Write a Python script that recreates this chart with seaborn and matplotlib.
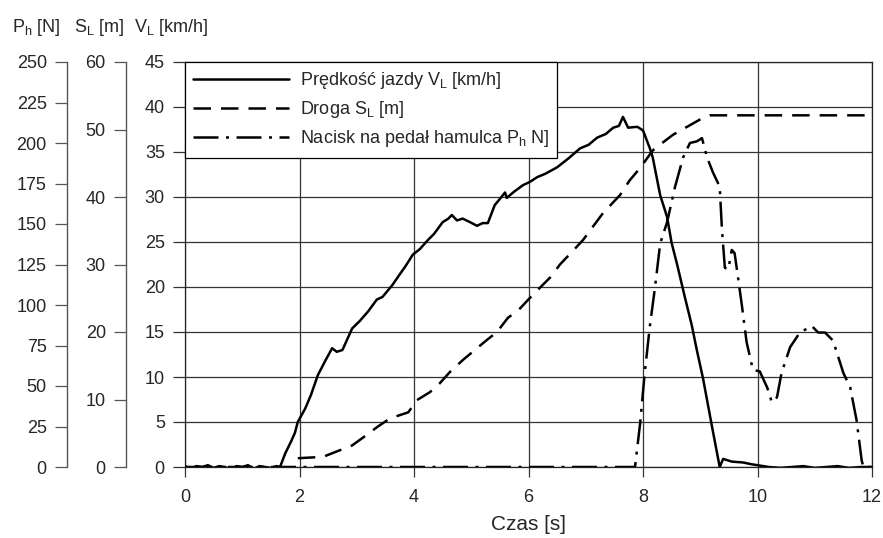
import matplotlib
matplotlib.use("Agg")
import matplotlib.pyplot as plt
import numpy as np
import pandas as pd
import seaborn as sns

# Vehicle speed V_L [km/h]
t_v = [0.0, 0.1, 0.2, 0.3, 0.4, 0.5, 0.6, 0.7, 0.8, 0.9, 1.0, 1.1, 1.2, 1.3,
       1.4, 1.5, 1.6, 1.66, 1.75, 1.85, 1.92, 1.97, 2.1, 2.2, 2.32, 2.45,
       2.57, 2.65, 2.75, 2.92, 3.05, 3.2, 3.35, 3.45, 3.62, 3.75, 3.85, 3.98,
       4.1, 4.24, 4.35, 4.5, 4.6, 4.66, 4.75, 4.85, 4.98, 5.1, 5.2, 5.29,
       5.41, 5.45, 5.59, 5.62, 5.75, 5.9, 6.03, 6.15, 6.3, 6.5, 6.7, 6.9,
       7.05, 7.2, 7.35, 7.48, 7.58, 7.65, 7.74, 7.9, 8.0, 8.12, 8.17, 8.3,
       8.42, 8.5, 8.6, 8.73, 8.85, 8.94, 9.05, 9.12, 9.22, 9.34, 9.4, 9.55,
       9.75, 9.9, 10.0, 10.2, 10.4, 10.6, 10.8, 11.0, 11.2, 11.4, 11.6, 11.8,
       12.0]
v_kmh = [0.1, -0.2, 0.1, 0.0, 0.2, -0.1, 0.1, 0.0, -0.3, 0.1, 0.0, 0.2, -0.2,
         0.1, 0.0, -0.1, 0.1, 0.0, 1.5, 2.8, 3.8, 5.0, 6.5, 8.0, 10.2, 11.8,
         13.2, 12.8, 13.0, 15.4, 16.2, 17.3, 18.6, 18.9, 20.2, 21.4, 22.3,
         23.6, 24.2, 25.2, 25.9, 27.2, 27.6, 28.0, 27.4, 27.6, 27.2, 26.8,
         27.1, 27.1, 29.1, 29.4, 30.5, 29.9, 30.6, 31.3, 31.7, 32.2, 32.6,
         33.3, 34.3, 35.4, 35.8, 36.6, 37.0, 37.7, 37.9, 38.9, 37.7, 37.8,
         37.4, 35.4, 34.4, 30.2, 27.8, 24.9, 22.4, 18.9, 15.8, 13.0, 9.8, 7.4,
         4.0, 0.0, 0.9, 0.6, 0.5, 0.3, 0.2, 0.0, -0.1, 0.0, 0.1, -0.1, 0.0,
         0.1, -0.1, 0.0, 0.0]

# Distance travelled S_L [m]
t_s = [1.97, 2.41, 2.65, 2.92, 3.1, 3.37, 3.58, 3.9, 4.05, 4.28, 4.45, 4.63,
       4.86, 5.03, 5.27, 5.45, 5.64, 5.82, 6.03, 6.24, 6.38, 6.55, 6.95, 7.3,
       7.6, 7.77, 7.95, 8.17, 8.35, 8.52, 8.77, 9.0, 9.17, 12.0]
s_m = [1.3, 1.5, 2.3, 3.2, 4.3, 6.0, 7.2, 8.1, 9.9, 11.1, 12.4, 14.1, 15.9,
       17.1, 18.8, 20.0, 22.1, 23.2, 25.1, 26.9, 28.1, 30.0, 33.6, 37.6, 40.3,
       42.5, 44.3, 46.9, 48.1, 49.2, 50.4, 51.5, 52.1, 52.1]

# Brake pedal force P_h [N]
t_p = [0.0, 7.86, 7.95, 8.03, 8.12, 8.21, 8.3, 8.42, 8.56, 8.7, 8.82, 8.94,
       9.03, 9.12, 9.22, 9.34, 9.38, 9.43, 9.49, 9.55, 9.6, 9.66, 9.73, 9.81,
       9.92, 10.04, 10.17, 10.25, 10.34, 10.42, 10.57, 10.74, 10.95, 11.06,
       11.18, 11.32, 11.5, 11.62, 11.73, 11.82, 11.85, 12.0]
p_n = [0, 0, 27, 58, 87, 111, 138, 151, 173, 191, 200, 201, 203, 191, 182,
       173, 146, 123, 122, 134, 132, 117, 99, 77, 60, 59, 49, 40, 43, 58, 74,
       83, 87, 83, 83, 78, 58, 49, 29, 4, 0, 0]

x_ticks = [0, 2, 4, 6, 8, 10, 12]
v_ticks = list(range(0, 46, 5))
s_ticks = list(range(0, 61, 10))
p_ticks = list(range(0, 251, 25))

labels = ["Prędkość jazdy V$_\\mathregular{L}$ [km/h]",
          "Droga S$_\\mathregular{L}$ [m]",
          "Nacisk na pedał hamulca P$_\\mathregular{h}$ N]"]

sns.set_style("ticks")
plt.rcParams["font.family"] = ["Liberation Sans", "DejaVu Sans"]
plt.rcParams["mathtext.fontset"] = "custom"
plt.rcParams["mathtext.rm"] = "Liberation Sans"
plt.rcParams["mathtext.it"] = "Liberation Sans:italic"
plt.rcParams["mathtext.bf"] = "Liberation Sans:bold"

df_v = pd.DataFrame({"t": t_v, "v": v_kmh})
df_s = pd.DataFrame({"t": t_s, "s": s_m})
df_p = pd.DataFrame({"t": t_p, "p": p_n})

fig = plt.figure(figsize=(8.83, 5.38), dpi=100)
ax = fig.add_axes([185 / 883, 1 - 467 / 538, 687 / 883, 405 / 538])
ax_s = ax.twinx()
ax_p = ax.twinx()

FS = 13
LW = 1.8
TICK_LEN = 8.5

sns.lineplot(data=df_v, x="t", y="v", ax=ax, color="black", lw=LW,
             estimator=None, sort=False, label=labels[0], legend=False)
sns.lineplot(data=df_s, x="t", y="s", ax=ax_s, color="black", lw=LW,
             estimator=None, sort=False, linestyle=(0, (7, 4)),
             label=labels[1], legend=False)
sns.lineplot(data=df_p, x="t", y="p", ax=ax_p, color="black", lw=LW,
             estimator=None, sort=False, linestyle=(0, (10, 3, 1.2, 3)),
             label=labels[2], legend=False)

# Main (speed) axis
ax.set_xlim(0, 12)
ax.set_ylim(0, 45)
ax.set_xticks(x_ticks)
ax.set_yticks(v_ticks)
ax.grid(True, color="#333333", lw=0.9)
ax.set_axisbelow(True)
ax.set_xlabel("Czas [s]", fontsize=15, labelpad=6)
ax.set_ylabel("")
ax.tick_params(axis="x", direction="out", length=7, width=0.9,
               labelsize=FS, pad=9, color="#333333")
ax.tick_params(axis="y", direction="out", length=TICK_LEN, width=0.9,
               labelsize=FS, pad=6, color="#333333")
for sp in ax.spines.values():
    sp.set_color("#222222")
    sp.set_linewidth(0.9)

# Offset axes for distance and brake force on the left side
for a, lim, ticks, pos in [(ax_s, 60, s_ticks, -59 / 687),
                           (ax_p, 250, p_ticks, -118 / 687)]:
    a.set_ylim(0, lim)
    a.set_yticks(ticks)
    a.set_ylabel("")
    a.patch.set_visible(False)
    a.spines["left"].set_position(("axes", pos))
    a.spines["left"].set_visible(True)
    a.spines["left"].set_color("#555555")
    a.spines["left"].set_linewidth(1.0)
    for name in ("right", "top", "bottom"):
        a.spines[name].set_visible(False)
    a.yaxis.set_ticks_position("left")
    a.yaxis.set_label_position("left")
    a.tick_params(axis="y", direction="out", length=TICK_LEN, width=0.9,
                  labelsize=FS, pad=6, color="#555555")

# Axis titles above the three scales
for xpix, txt in [(12, "P$_\\mathregular{h}$ [N]"),
                  (74, "S$_\\mathregular{L}$ [m]"),
                  (134, "V$_\\mathregular{L}$ [km/h]")]:
    fig.text(xpix / 883, 1 - 28 / 538, txt, fontsize=FS,
             va="center", ha="left")

handles = ax.get_lines()[:1] + ax_s.get_lines()[:1] + ax_p.get_lines()[:1]
leg = ax_p.legend(handles, labels, loc="upper left", bbox_to_anchor=(0, 1),
                  borderaxespad=0, frameon=True, fancybox=False,
                  framealpha=1, edgecolor="black", fontsize=FS,
                  handlelength=5.3, handletextpad=0.6, labelspacing=0.45,
                  borderpad=0.45)
leg.get_frame().set_linewidth(0.9)

fig.savefig("out.png", dpi=100)
